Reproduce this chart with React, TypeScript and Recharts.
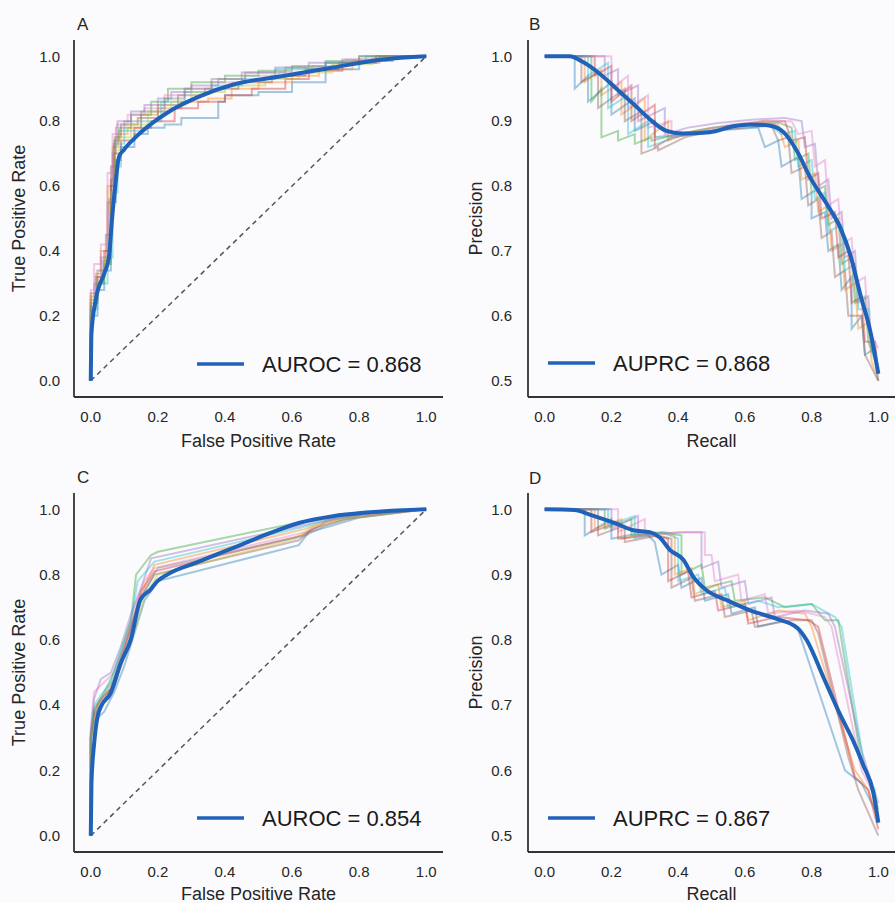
import { LineChart, Line, XAxis, YAxis, ReferenceLine, Legend } from "recharts";

const FONT = '"Liberation Sans", Arial, Helvetica, sans-serif';
const MEAN_COLOR = "#1f62b8";
const INK = "#262626";
const BG = "#fbfbfd";

const foldColors = ["#1f77b4", "#ff7f0e", "#2ca02c", "#d62728", "#9467bd", "#8c564b", "#e377c2", "#17becf", "#bcbd22", "#7f7f7f"];

const rateTicks = [0, 0.2, 0.4, 0.6, 0.8, 1.0];
const precisionTicks = [0.5, 0.6, 0.7, 0.8, 0.9, 1.0];

// panel A: ROC
const meanRocA = [[0, 0], [0.002, 0.145], [0.015, 0.25], [0.04, 0.33], [0.054, 0.38], [0.064, 0.506], [0.074, 0.61], [0.084, 0.69], [0.099, 0.712], [0.148, 0.764], [0.228, 0.826], [0.326, 0.877], [0.425, 0.913], [0.574, 0.939], [0.722, 0.965], [0.87, 0.99], [1, 1]];
const foldsRocA = [
  [[0, 0], [0, 0.12], [0.02, 0.2], [0.04, 0.28], [0.06, 0.34], [0.075, 0.55], [0.09, 0.68], [0.13, 0.72], [0.17, 0.76], [0.22, 0.78], [0.27, 0.79], [0.38, 0.81], [0.4, 0.86], [0.5, 0.88], [0.6, 0.89], [0.7, 0.92], [0.8, 0.96], [0.9, 0.985], [1, 1]],
  [[0, 0], [0, 0.18], [0.015, 0.26], [0.03, 0.33], [0.05, 0.4], [0.065, 0.6], [0.08, 0.72], [0.11, 0.76], [0.15, 0.78], [0.2, 0.82], [0.27, 0.84], [0.35, 0.86], [0.42, 0.87], [0.5, 0.9], [0.6, 0.92], [0.68, 0.94], [0.78, 0.96], [0.88, 0.985], [1, 1]],
  [[0, 0], [0, 0.14], [0.02, 0.24], [0.04, 0.3], [0.06, 0.36], [0.07, 0.6], [0.085, 0.74], [0.12, 0.78], [0.18, 0.82], [0.23, 0.86], [0.3, 0.9], [0.4, 0.92], [0.5, 0.94], [0.6, 0.955], [0.7, 0.97], [0.8, 0.985], [1, 1]],
  [[0, 0], [0, 0.15], [0.02, 0.25], [0.04, 0.32], [0.06, 0.4], [0.07, 0.62], [0.09, 0.7], [0.13, 0.74], [0.18, 0.78], [0.25, 0.8], [0.32, 0.84], [0.4, 0.86], [0.48, 0.88], [0.58, 0.9], [0.65, 0.93], [0.75, 0.955], [0.85, 0.98], [1, 1]],
  [[0, 0], [0, 0.16], [0.01, 0.22], [0.03, 0.3], [0.05, 0.38], [0.065, 0.55], [0.075, 0.7], [0.08, 0.78], [0.12, 0.8], [0.16, 0.83], [0.2, 0.85], [0.24, 0.87], [0.3, 0.89], [0.38, 0.91], [0.45, 0.93], [0.55, 0.95], [0.65, 0.965], [0.75, 0.98], [0.85, 0.99], [1, 1]],
  [[0, 0], [0, 0.17], [0.02, 0.27], [0.045, 0.34], [0.06, 0.45], [0.072, 0.66], [0.09, 0.75], [0.14, 0.79], [0.2, 0.81], [0.26, 0.85], [0.34, 0.88], [0.44, 0.9], [0.54, 0.92], [0.64, 0.94], [0.74, 0.96], [0.86, 0.98], [1, 1]],
  [[0, 0], [0, 0.2], [0.01, 0.28], [0.03, 0.36], [0.05, 0.42], [0.065, 0.64], [0.078, 0.76], [0.11, 0.79], [0.16, 0.82], [0.22, 0.84], [0.28, 0.88], [0.36, 0.9], [0.46, 0.92], [0.56, 0.94], [0.66, 0.95], [0.76, 0.97], [0.88, 0.99], [1, 1]],
  [[0, 0], [0, 0.13], [0.02, 0.22], [0.05, 0.3], [0.065, 0.38], [0.08, 0.58], [0.09, 0.66], [0.1, 0.73], [0.15, 0.77], [0.21, 0.8], [0.28, 0.86], [0.36, 0.89], [0.45, 0.91], [0.55, 0.93], [0.7, 0.96], [0.82, 0.98], [1, 1]],
  [[0, 0], [0, 0.16], [0.02, 0.26], [0.04, 0.31], [0.06, 0.38], [0.07, 0.58], [0.085, 0.71], [0.12, 0.75], [0.17, 0.79], [0.24, 0.83], [0.3, 0.86], [0.4, 0.89], [0.52, 0.91], [0.62, 0.93], [0.72, 0.95], [0.84, 0.975], [1, 1]],
  [[0, 0], [0, 0.14], [0.015, 0.23], [0.035, 0.32], [0.055, 0.37], [0.068, 0.56], [0.082, 0.73], [0.1, 0.77], [0.15, 0.8], [0.22, 0.83], [0.28, 0.87], [0.36, 0.9], [0.46, 0.93], [0.58, 0.95], [0.7, 0.965], [0.8, 0.98], [1, 1]],
];

// panel B: precision-recall
const meanPrB = [[0, 1], [0.075, 1], [0.115, 0.991], [0.165, 0.973], [0.215, 0.95], [0.265, 0.927], [0.315, 0.903], [0.365, 0.885], [0.415, 0.881], [0.495, 0.883], [0.565, 0.892], [0.616, 0.895], [0.676, 0.893], [0.716, 0.883], [0.756, 0.854], [0.796, 0.813], [0.846, 0.772], [0.886, 0.736], [0.916, 0.694], [0.946, 0.633], [0.976, 0.576], [1, 0.511]];
const foldsPrB = [
  [[0, 1], [0.09, 1], [0.09, 0.95], [0.13, 0.97], [0.13, 0.93], [0.2, 0.96], [0.2, 0.91], [0.27, 0.935], [0.27, 0.885], [0.33, 0.9], [0.33, 0.875], [0.42, 0.88], [0.5, 0.885], [0.58, 0.888], [0.64, 0.89], [0.66, 0.86], [0.7, 0.87], [0.71, 0.83], [0.76, 0.845], [0.77, 0.78], [0.8, 0.79], [0.8, 0.75], [0.84, 0.76], [0.85, 0.7], [0.88, 0.71], [0.89, 0.64], [0.92, 0.66], [0.92, 0.58], [0.95, 0.6], [0.96, 0.54], [0.99, 0.55], [1, 0.5]],
  [[0, 1], [0.12, 1], [0.12, 0.96], [0.17, 0.98], [0.17, 0.94], [0.23, 0.96], [0.23, 0.91], [0.3, 0.935], [0.3, 0.87], [0.37, 0.9], [0.37, 0.87], [0.45, 0.885], [0.55, 0.893], [0.65, 0.897], [0.7, 0.895], [0.72, 0.86], [0.76, 0.87], [0.77, 0.81], [0.81, 0.82], [0.82, 0.76], [0.85, 0.77], [0.86, 0.7], [0.89, 0.71], [0.9, 0.64], [0.93, 0.65], [0.94, 0.58], [0.97, 0.59], [0.98, 0.53], [1, 0.5]],
  [[0, 1], [0.14, 1], [0.14, 0.93], [0.17, 0.95], [0.17, 0.875], [0.22, 0.885], [0.22, 0.87], [0.27, 0.88], [0.27, 0.865], [0.32, 0.875], [0.32, 0.87], [0.4, 0.88], [0.5, 0.89], [0.6, 0.895], [0.7, 0.898], [0.74, 0.89], [0.75, 0.84], [0.79, 0.85], [0.8, 0.79], [0.84, 0.8], [0.85, 0.74], [0.88, 0.75], [0.89, 0.68], [0.92, 0.69], [0.93, 0.62], [0.96, 0.63], [0.97, 0.56], [1, 0.52]],
  [[0, 1], [0.15, 1], [0.15, 0.97], [0.2, 0.985], [0.2, 0.93], [0.26, 0.955], [0.26, 0.9], [0.33, 0.925], [0.33, 0.86], [0.38, 0.875], [0.45, 0.88], [0.55, 0.89], [0.65, 0.9], [0.72, 0.9], [0.74, 0.87], [0.78, 0.875], [0.79, 0.81], [0.82, 0.82], [0.83, 0.75], [0.87, 0.76], [0.88, 0.69], [0.91, 0.7], [0.92, 0.62], [0.95, 0.63], [0.96, 0.56], [0.99, 0.56], [1, 0.51]],
  [[0, 1], [0.18, 1], [0.18, 0.97], [0.22, 0.98], [0.22, 0.94], [0.28, 0.955], [0.28, 0.9], [0.36, 0.92], [0.36, 0.88], [0.43, 0.89], [0.52, 0.897], [0.62, 0.902], [0.72, 0.905], [0.77, 0.9], [0.78, 0.86], [0.81, 0.865], [0.82, 0.8], [0.85, 0.81], [0.86, 0.75], [0.89, 0.76], [0.9, 0.69], [0.93, 0.7], [0.94, 0.62], [0.97, 0.63], [0.98, 0.55], [1, 0.52]],
  [[0, 1], [0.11, 1], [0.11, 0.96], [0.16, 0.975], [0.16, 0.92], [0.24, 0.95], [0.24, 0.9], [0.29, 0.915], [0.29, 0.85], [0.34, 0.86], [0.34, 0.855], [0.42, 0.875], [0.5, 0.885], [0.6, 0.89], [0.68, 0.893], [0.7, 0.87], [0.73, 0.875], [0.74, 0.82], [0.78, 0.83], [0.79, 0.77], [0.82, 0.78], [0.83, 0.72], [0.86, 0.73], [0.87, 0.66], [0.9, 0.67], [0.91, 0.6], [0.95, 0.6], [0.96, 0.54], [1, 0.5]],
  [[0, 1], [0.2, 1], [0.2, 0.95], [0.25, 0.97], [0.25, 0.92], [0.31, 0.94], [0.31, 0.89], [0.38, 0.9], [0.38, 0.875], [0.46, 0.885], [0.56, 0.895], [0.66, 0.9], [0.74, 0.9], [0.76, 0.88], [0.8, 0.885], [0.81, 0.83], [0.84, 0.84], [0.85, 0.77], [0.88, 0.78], [0.89, 0.71], [0.92, 0.72], [0.93, 0.65], [0.96, 0.66], [0.97, 0.58], [1, 0.55]],
  [[0, 1], [0.13, 1], [0.13, 0.97], [0.19, 0.99], [0.19, 0.92], [0.25, 0.94], [0.25, 0.88], [0.31, 0.9], [0.31, 0.86], [0.39, 0.875], [0.48, 0.885], [0.58, 0.892], [0.67, 0.895], [0.71, 0.88], [0.75, 0.885], [0.76, 0.83], [0.8, 0.84], [0.81, 0.78], [0.84, 0.79], [0.85, 0.73], [0.89, 0.74], [0.9, 0.67], [0.93, 0.68], [0.94, 0.61], [0.97, 0.61], [0.98, 0.55], [1, 0.51]],
];

// panel C: ROC
const meanRocC = [[0, 0], [0.002, 0.159], [0.01, 0.282], [0.02, 0.364], [0.03, 0.395], [0.059, 0.436], [0.089, 0.528], [0.119, 0.6], [0.148, 0.723], [0.178, 0.754], [0.198, 0.779], [0.228, 0.8], [0.326, 0.841], [0.425, 0.882], [0.524, 0.923], [0.623, 0.959], [0.722, 0.979], [0.821, 0.99], [1, 1]];
const foldsRocC = [
  [[0, 0], [0, 0.28], [0.01, 0.35], [0.04, 0.38], [0.07, 0.44], [0.1, 0.52], [0.13, 0.62], [0.16, 0.72], [0.2, 0.78], [0.62, 0.89], [0.65, 0.93], [0.72, 0.95], [0.8, 0.975], [1, 1]],
  [[0, 0], [0, 0.3], [0.01, 0.38], [0.03, 0.41], [0.06, 0.45], [0.09, 0.55], [0.12, 0.64], [0.15, 0.74], [0.19, 0.83], [0.64, 0.94], [0.7, 0.965], [0.8, 0.985], [1, 1]],
  [[0, 0], [0, 0.3], [0.01, 0.38], [0.03, 0.42], [0.06, 0.48], [0.09, 0.56], [0.12, 0.66], [0.135, 0.8], [0.18, 0.86], [0.2, 0.87], [0.62, 0.96], [0.7, 0.975], [0.8, 0.99], [1, 1]],
  [[0, 0], [0, 0.3], [0.01, 0.37], [0.03, 0.4], [0.06, 0.45], [0.09, 0.54], [0.12, 0.64], [0.15, 0.75], [0.19, 0.81], [0.63, 0.92], [0.7, 0.96], [0.8, 0.985], [1, 1]],
  [[0, 0], [0, 0.32], [0.01, 0.42], [0.03, 0.48], [0.06, 0.5], [0.09, 0.58], [0.12, 0.68], [0.15, 0.76], [0.18, 0.85], [0.65, 0.955], [0.75, 0.98], [1, 1]],
  [[0, 0], [0, 0.3], [0.01, 0.39], [0.03, 0.42], [0.07, 0.46], [0.1, 0.55], [0.13, 0.65], [0.15, 0.73], [0.19, 0.8], [0.62, 0.905], [0.66, 0.94], [0.76, 0.97], [1, 1]],
  [[0, 0], [0, 0.33], [0.01, 0.44], [0.04, 0.47], [0.07, 0.5], [0.1, 0.58], [0.13, 0.7], [0.16, 0.78], [0.19, 0.82], [0.64, 0.93], [0.72, 0.97], [1, 1]],
  [[0, 0], [0, 0.31], [0.01, 0.4], [0.03, 0.43], [0.06, 0.47], [0.09, 0.57], [0.12, 0.66], [0.14, 0.78], [0.19, 0.84], [0.63, 0.945], [0.72, 0.97], [0.85, 0.99], [1, 1]],
  [[0, 0], [0, 0.29], [0.01, 0.36], [0.03, 0.39], [0.06, 0.44], [0.09, 0.52], [0.13, 0.63], [0.16, 0.73], [0.2, 0.8], [0.61, 0.91], [0.66, 0.945], [0.75, 0.97], [1, 1]],
  [[0, 0], [0, 0.31], [0.02, 0.4], [0.04, 0.43], [0.07, 0.48], [0.1, 0.57], [0.13, 0.67], [0.16, 0.75], [0.2, 0.82], [0.64, 0.92], [0.7, 0.95], [0.8, 0.98], [1, 1]],
];

// panel D: precision-recall
const meanPrD = [[0, 1], [0.09, 0.999], [0.135, 0.992], [0.215, 0.978], [0.265, 0.968], [0.315, 0.965], [0.345, 0.957], [0.375, 0.938], [0.415, 0.923], [0.445, 0.897], [0.485, 0.876], [0.545, 0.861], [0.616, 0.845], [0.696, 0.832], [0.756, 0.819], [0.786, 0.799], [0.836, 0.742], [0.886, 0.685], [0.925, 0.645], [0.955, 0.608], [0.985, 0.566], [1, 0.52]];
const foldsPrD = [
  [[0, 1], [0.12, 1], [0.12, 0.96], [0.2, 0.985], [0.2, 0.955], [0.3, 0.965], [0.33, 0.95], [0.35, 0.9], [0.4, 0.915], [0.41, 0.88], [0.47, 0.895], [0.48, 0.86], [0.55, 0.87], [0.56, 0.84], [0.63, 0.85], [0.64, 0.82], [0.72, 0.83], [0.76, 0.815], [0.9, 0.6], [0.95, 0.58], [0.97, 0.56], [1, 0.53]],
  [[0, 1], [0.15, 1], [0.15, 0.97], [0.23, 0.985], [0.23, 0.955], [0.33, 0.965], [0.39, 0.96], [0.39, 0.9], [0.44, 0.91], [0.45, 0.87], [0.52, 0.885], [0.53, 0.85], [0.6, 0.86], [0.61, 0.83], [0.7, 0.845], [0.78, 0.84], [0.8, 0.82], [0.93, 0.6], [0.97, 0.57], [1, 0.52]],
  [[0, 1], [0.18, 1], [0.18, 0.97], [0.26, 0.985], [0.26, 0.96], [0.36, 0.965], [0.41, 0.96], [0.41, 0.9], [0.47, 0.915], [0.48, 0.88], [0.56, 0.89], [0.57, 0.86], [0.66, 0.865], [0.72, 0.85], [0.8, 0.855], [0.84, 0.83], [0.88, 0.83], [0.95, 0.61], [0.98, 0.58], [1, 0.54]],
  [[0, 1], [0.14, 1], [0.14, 0.965], [0.22, 0.98], [0.22, 0.955], [0.32, 0.96], [0.37, 0.955], [0.37, 0.89], [0.43, 0.905], [0.44, 0.865], [0.51, 0.875], [0.52, 0.845], [0.6, 0.855], [0.61, 0.825], [0.7, 0.835], [0.79, 0.83], [0.82, 0.82], [0.93, 0.59], [0.97, 0.57], [1, 0.51]],
  [[0, 1], [0.2, 1], [0.2, 0.97], [0.28, 0.99], [0.28, 0.96], [0.4, 0.965], [0.47, 0.965], [0.47, 0.91], [0.52, 0.92], [0.53, 0.88], [0.6, 0.89], [0.61, 0.855], [0.68, 0.865], [0.69, 0.835], [0.78, 0.845], [0.85, 0.84], [0.87, 0.82], [0.95, 0.63], [0.98, 0.58], [1, 0.55]],
  [[0, 1], [0.16, 1], [0.16, 0.96], [0.24, 0.975], [0.24, 0.95], [0.34, 0.96], [0.38, 0.955], [0.38, 0.88], [0.44, 0.895], [0.45, 0.86], [0.53, 0.87], [0.54, 0.835], [0.62, 0.845], [0.63, 0.82], [0.74, 0.83], [0.8, 0.83], [0.82, 0.81], [0.91, 0.62], [0.94, 0.57], [1, 0.5]],
  [[0, 1], [0.22, 1], [0.22, 0.965], [0.3, 0.985], [0.3, 0.96], [0.42, 0.965], [0.48, 0.965], [0.48, 0.93], [0.5, 0.93], [0.51, 0.89], [0.58, 0.9], [0.59, 0.86], [0.66, 0.87], [0.67, 0.84], [0.76, 0.845], [0.84, 0.835], [0.86, 0.82], [0.95, 0.6], [0.98, 0.57], [1, 0.53]],
  [[0, 1], [0.19, 1], [0.19, 0.975], [0.27, 0.99], [0.27, 0.955], [0.35, 0.965], [0.4, 0.955], [0.4, 0.89], [0.46, 0.9], [0.47, 0.87], [0.54, 0.88], [0.55, 0.85], [0.64, 0.86], [0.7, 0.85], [0.8, 0.855], [0.87, 0.835], [0.89, 0.82], [0.96, 0.6], [0.99, 0.57], [1, 0.52]],
];

const toPoints = (pts: number[][]) => pts.map(([x, y]) => ({ x, y }));

type PanelProps = {
  left: number;
  top: number;
  width: number;
  height: number;
  marginTop: number;
  marginRight: number;
  yAxisWidth: number;
  xAxisHeight: number;
  yLabelOffset: number;
  yTickMargin: number;
  kind: "roc" | "pr";
  mean: number[][];
  folds: number[][][];
  foldCurve: "stepBefore" | "linear";
  legendText: string;
  legendLeft: number;
  legendTop: number;
};

function Panel(p: PanelProps) {
  const isRoc = p.kind === "roc";
  const tickStyle = { fontSize: 15, fill: INK, fontFamily: FONT };
  const labelStyle = { fontSize: 18, fill: INK, fontFamily: FONT, textAnchor: "middle" as const };
  return (
    <div style={{ position: "absolute", left: p.left, top: p.top }}>
      <LineChart
        width={p.width}
        height={p.height}
        margin={{ top: p.marginTop, right: p.marginRight, bottom: 0, left: 0 }}
      >
        <XAxis
          type="number"
          dataKey="x"
          domain={[-0.05, 1.05]}
          ticks={rateTicks}
          allowDataOverflow
          tickFormatter={(v: number) => v.toFixed(1)}
          tickLine={false}
          tickSize={0}
          tickMargin={14}
          height={p.xAxisHeight}
          axisLine={{ stroke: "#333", strokeWidth: 1.8 }}
          tick={tickStyle}
          label={{
            value: isRoc ? "False Positive Rate" : "Recall",
            position: "insideBottom",
            offset: 3,
            style: labelStyle,
          }}
        />
        <YAxis
          type="number"
          dataKey="y"
          domain={isRoc ? [-0.05, 1.05] : [0.475, 1.025]}
          ticks={isRoc ? rateTicks : precisionTicks}
          allowDataOverflow
          tickFormatter={(v: number) => v.toFixed(1)}
          tickLine={false}
          tickSize={0}
          tickMargin={p.yTickMargin}
          width={p.yAxisWidth}
          axisLine={{ stroke: "#333", strokeWidth: 1.8 }}
          tick={tickStyle}
          label={{
            value: isRoc ? "True Positive Rate" : "Precision",
            angle: -90,
            position: "insideLeft",
            offset: p.yLabelOffset,
            style: labelStyle,
          }}
        />
        {p.folds.map((f, i) => (
          <Line
            key={i}
            data={toPoints(f)}
            dataKey="y"
            type={p.foldCurve}
            stroke={foldColors[i % foldColors.length]}
            strokeOpacity={0.4}
            strokeWidth={2}
            dot={false}
            activeDot={false}
            isAnimationActive={false}
            legendType="none"
          />
        ))}
        {isRoc && (
          <ReferenceLine
            segment={[{ x: 0, y: 0 }, { x: 1, y: 1 }]}
            stroke="#555"
            strokeWidth={1.5}
            strokeDasharray="5 4"
          />
        )}
        <Line
          data={toPoints(p.mean)}
          dataKey="y"
          type="monotone"
          stroke={MEAN_COLOR}
          strokeWidth={4}
          dot={false}
          activeDot={false}
          isAnimationActive={false}
        />
        <Legend
          layout="vertical"
          align="center"
          verticalAlign="middle"
          wrapperStyle={{ left: p.legendLeft, top: p.legendTop, width: 260, height: 30 }}
          content={() => (
            <svg width={260} height={30} style={{ display: "block" }}>
              <line x1={0} y1={15} x2={47} y2={15} stroke={MEAN_COLOR} strokeWidth={3.5} />
              <text x={65} y={23} fontSize={22} fill="#1a1a1a" fontFamily={FONT}>
                {p.legendText}
              </text>
            </svg>
          )}
        />
      </LineChart>
    </div>
  );
}

export default function App() {
  return (
    <div style={{ position: "absolute", left: 0, top: 0, width: 895, height: 903, background: BG, overflow: "hidden" }}>
      <Panel
        left={0} top={0} width={447} height={450} marginTop={40} marginRight={4}
        yAxisWidth={74} xAxisHeight={53} yLabelOffset={19} yTickMargin={14}
        kind="roc" mean={meanRocA} folds={foldsRocA} foldCurve="stepBefore"
        legendText="AUROC = 0.868" legendLeft={197} legendTop={349}
      />
      <Panel
        left={450} top={0} width={445} height={450} marginTop={40} marginRight={0}
        yAxisWidth={78} xAxisHeight={53} yLabelOffset={26} yTickMargin={16}
        kind="pr" mean={meanPrB} folds={foldsPrB} foldCurve="linear"
        legendText="AUPRC = 0.868" legendLeft={98} legendTop={348}
      />
      <Panel
        left={0} top={450} width={447} height={453} marginTop={43} marginRight={4}
        yAxisWidth={74} xAxisHeight={51} yLabelOffset={19} yTickMargin={14}
        kind="roc" mean={meanRocC} folds={foldsRocC} foldCurve="linear"
        legendText="AUROC = 0.854" legendLeft={197} legendTop={353}
      />
      <Panel
        left={450} top={450} width={445} height={453} marginTop={43} marginRight={0}
        yAxisWidth={78} xAxisHeight={51} yLabelOffset={26} yTickMargin={16}
        kind="pr" mean={meanPrD} folds={foldsPrD} foldCurve="linear"
        legendText="AUPRC = 0.867" legendLeft={98} legendTop={353}
      />
      <svg width={895} height={903} style={{ position: "absolute", left: 0, top: 0, pointerEvents: "none" }}>
        <g fontFamily={FONT} fontSize={17} fill={INK}>
          <text x={77} y={30}>A</text>
          <text x={529} y={30}>B</text>
          <text x={77} y={483}>C</text>
          <text x={529} y={484}>D</text>
        </g>
      </svg>
    </div>
  );
}
